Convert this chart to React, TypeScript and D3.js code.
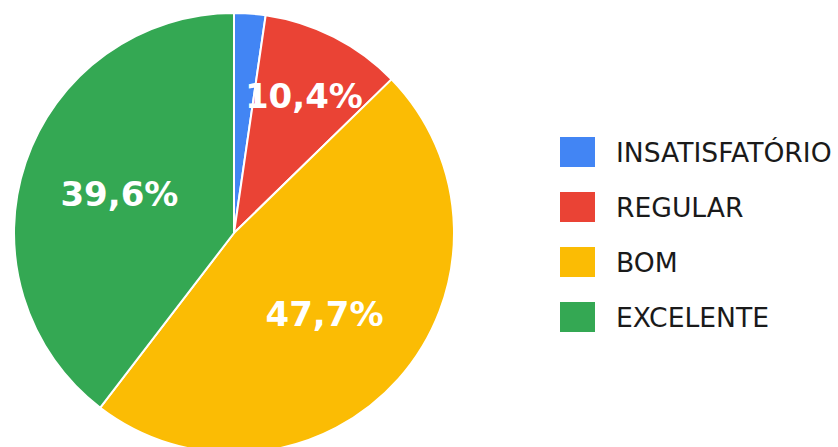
import React from "react";
import * as d3 from "d3";

const categories = ["INSATISFATÓRIO", "REGULAR", "BOM", "EXCELENTE"];
const values = [2.3, 10.4, 47.7, 39.6];
const labels = ["2,3%", "10,4%", "47,7%", "39,6%"];
const colors = ["#4285f4", "#ea4335", "#fbbc04", "#34a853"];

const width = 838;
const height = 447;

export default function App() {
  const cx = 234;
  const cy = 233;
  const radius = 220;

  const pie = d3
    .pie<number>()
    .sort(null)
    .value((d) => d);
  const arcs = pie(values);

  const arcGen = d3.arc<d3.PieArcDatum<number>>().innerRadius(0).outerRadius(radius);

  // labels sit further out on narrow slices
  const labelPos = (a: d3.PieArcDatum<number>) => {
    const span = a.endAngle - a.startAngle;
    const r = span < Math.PI / 3 ? radius * 0.7 : radius * 0.55;
    const mid = (a.startAngle + a.endAngle) / 2;
    return [Math.sin(mid) * r, -Math.cos(mid) * r];
  };

  const legendX = 560;
  const legendY = d3.scalePoint<string>().domain(categories).range([152, 317]);

  return (
    <svg
      width={width}
      height={height}
      style={{ position: "absolute", left: 0, top: 0, background: "#fff" }}
      fontFamily="DejaVu Sans, sans-serif"
    >
      <g transform={`translate(${cx},${cy})`}>
        {arcs.map((a, i) => (
          <path
            key={i}
            d={arcGen(a) || ""}
            fill={colors[i]}
            stroke="#fff"
            strokeWidth={2}
          />
        ))}
        {arcs.map((a, i) => {
          if (a.endAngle - a.startAngle < 0.2) return null;
          const [x, y] = labelPos(a);
          return (
            <text
              key={i}
              x={x}
              y={y}
              dy="0.36em"
              textAnchor="middle"
              fill="#fff"
              fontWeight="bold"
              fontSize={34}
            >
              {labels[i]}
            </text>
          );
        })}
      </g>
      <g>
        {categories.map((c, i) => {
          const y = legendY(c) as number;
          return (
            <g key={c}>
              <rect x={legendX} y={y - 15} width={35} height={30} fill={colors[i]} />
              <text x={616} y={y + 9.5} fontSize={26.6} fill="#1a1a1a">
                {c}
              </text>
            </g>
          );
        })}
      </g>
    </svg>
  );
}
